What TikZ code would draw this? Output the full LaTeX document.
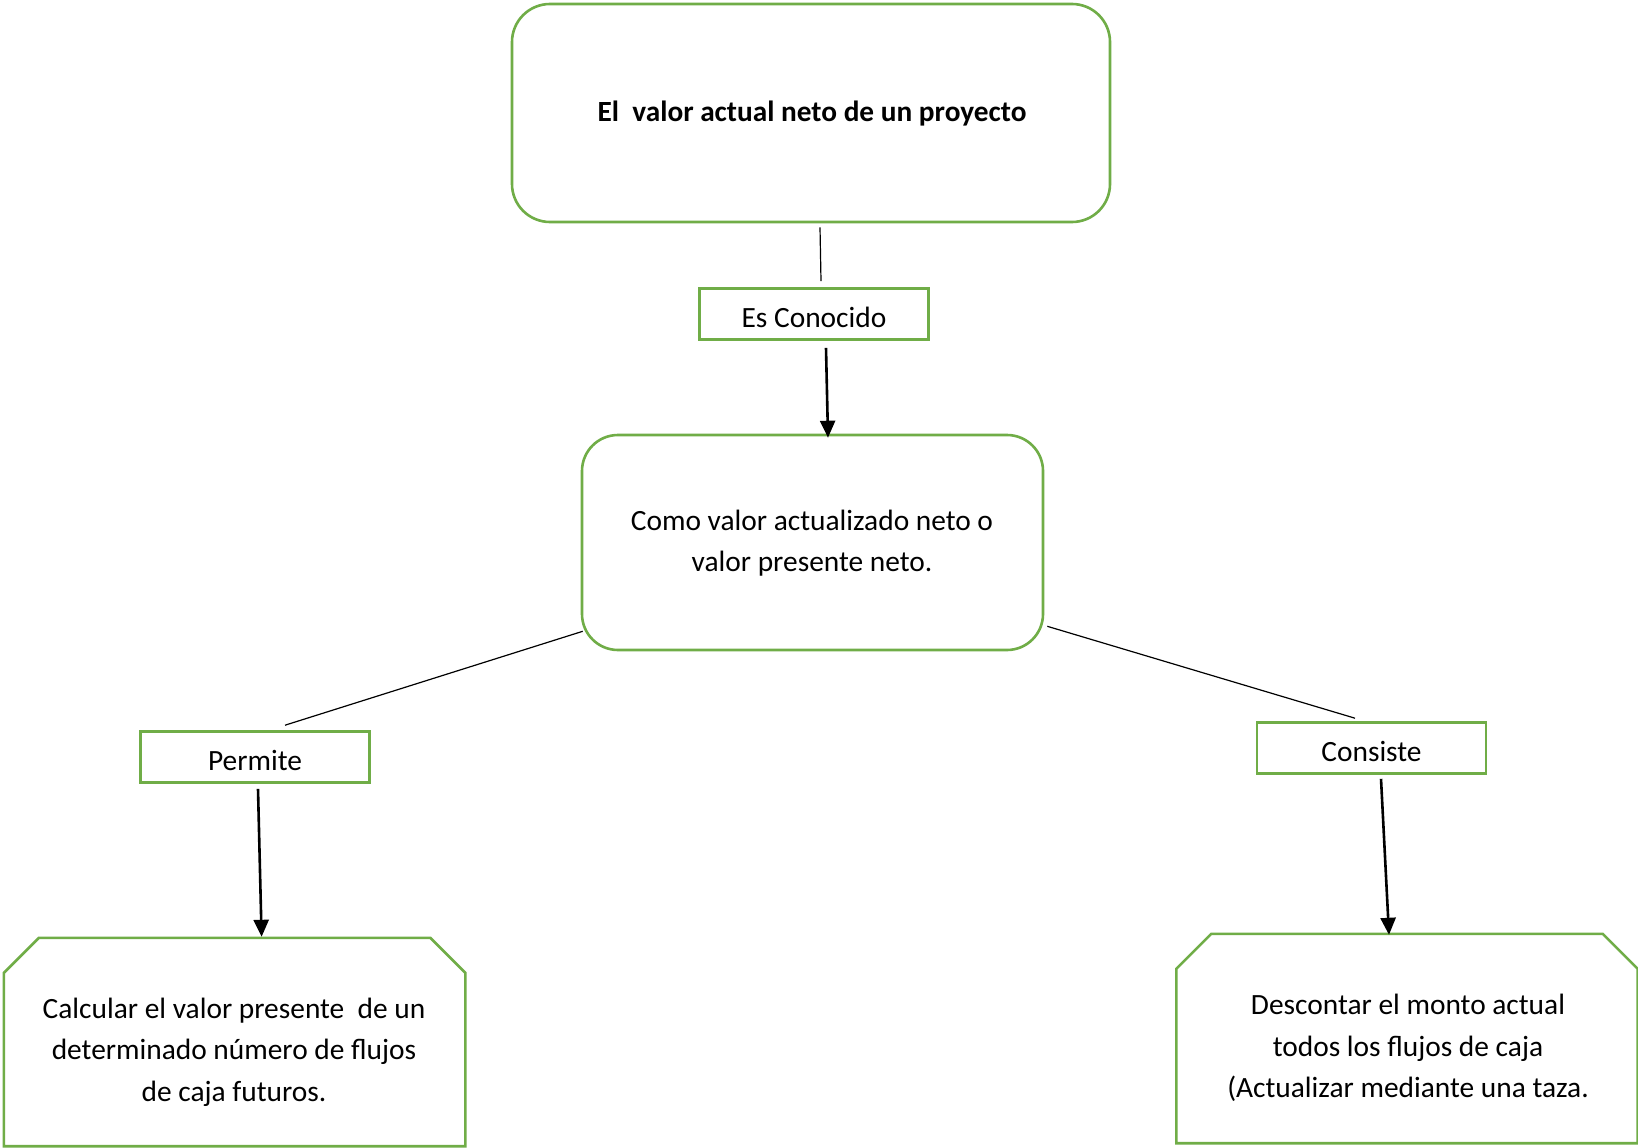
\documentclass[tikz,border=0pt]{standalone}
\usepackage{fontspec}
\setmainfont{Carlito}
\usetikzlibrary{arrows.meta,calc}
\definecolor{officegreen}{HTML}{70AD47}
\begin{document}
\begin{tikzpicture}[x=1pt,y=-1pt,
  box/.style={draw=officegreen,line width=2.6pt,inner sep=0pt,fill=white},
  roundbox/.style={box,rounded corners=38pt},
  linkbox/.style={box,minimum width=229pt,minimum height=51pt},
  txt/.style={align=center,font=\fontsize{29.4}{41.5}\selectfont},
  thin/.style={draw=black,line width=1.2pt},
  arr/.style={draw=black,line width=2.6pt,-{Triangle[length=17pt,width=15pt]}}]
\useasboundingbox (0,0) rectangle (1638,1148);
\fill[white] (0,0) rectangle (1638,1148);

% main boxes
\node[roundbox,minimum width=598pt,minimum height=218pt] (top) at (811,113) {};
\node[txt,font=\fontsize{29.3}{41.5}\selectfont\bfseries] (toptxt) at (812,114) {El\ \ valor actual neto de un proyecto};

\node[linkbox] (esc) at (814,314) {};
\node[txt] (esctxt) at (814,317) {Es Conocido};

\node[roundbox,minimum width=461pt,minimum height=215pt,rounded corners=36pt] (mid) at (812.5,542.5) {};
\node[txt] (midtxt) at (812,543) {Como valor actualizado neto o\\valor presente neto.};

\node[linkbox] (perm) at (255,757) {};
\node[txt] (permtxt) at (255,760) {Permite};

\node[linkbox] (cons) at (1371.5,748) {};
\node[txt] (constxt) at (1371.5,751) {Consiste};

% bottom chamfered boxes (anchor nodes + outlines)
\node[minimum width=461pt,minimum height=208pt,inner sep=0pt] (left) at (234.6,1042) {};
\draw[box] (left.south west) -- ($(left.north west)+(0,35)$) -- ($(left.north west)+(35,0)$)
  -- ($(left.north east)+(-35,0)$) -- ($(left.north east)+(0,35)$) -- (left.south east) -- cycle;
\node[txt] (lefttxt) at (234,1052) {Calcular el valor presente\ \ de un\\determinado número de flujos\\de caja futuros.};

\node[minimum width=461pt,minimum height=209pt,inner sep=0pt] (right) at (1407,1038.5) {};
\draw[box] (right.south west) -- ($(right.north west)+(0,35)$) -- ($(right.north west)+(35,0)$)
  -- ($(right.north east)+(-35,0)$) -- ($(right.north east)+(0,35)$) -- (right.south east) -- cycle;
\node[txt] (righttxt) at (1408,1048) {Descontar el monto actual\\todos los flujos de caja\\(Actualizar mediante una taza.};

% connectors
\draw[thin] ($(top.south)+(9,4)$) -- ($(esc.north)+(7,-6)$);
\draw[arr] ($(esc.south)+(12,7)$) -- ($(mid.north)+(15.5,4)$);
\draw[thin] ($(mid.south west)+(2,-20)$) -- ($(perm.north)+(30,-5)$);
\draw[thin] ($(mid.south east)+(3,-25)$) -- ($(cons.north)+(-16.5,-3)$);
\draw[arr] ($(perm.south)+(3,5)$) -- ($(left.north)+(27,-1)$);
\draw[arr] ($(cons.south)+(9.5,4)$) -- ($(right.north)+(-18,1)$);
\end{tikzpicture}
\end{document}
